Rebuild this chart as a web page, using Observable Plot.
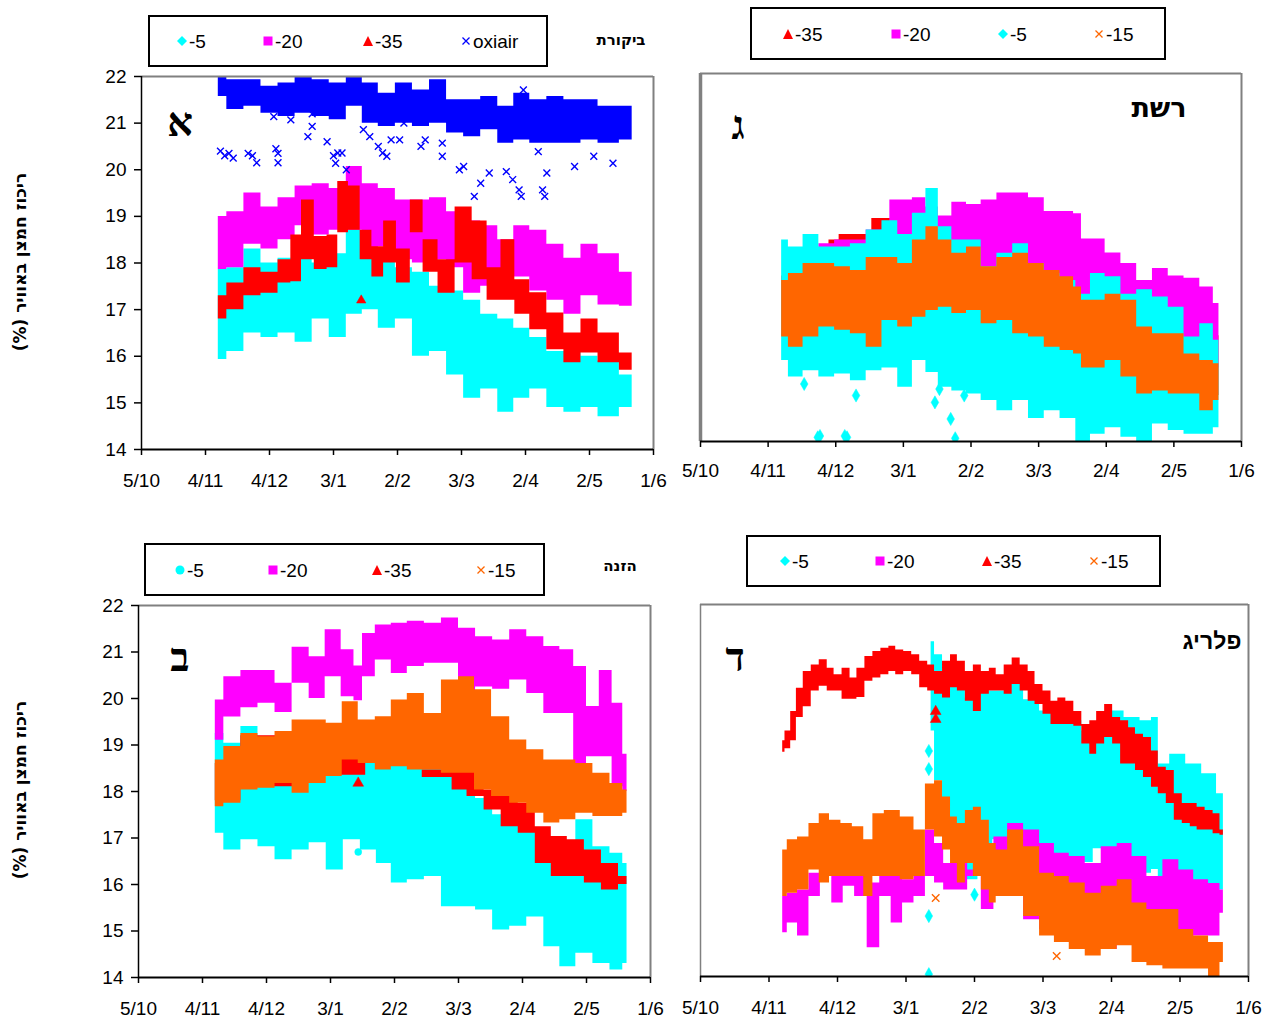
<!DOCTYPE html>
<html>
<head>
<meta charset="utf-8">
<script src="https://cdn.jsdelivr.net/npm/d3@7"></script>
<script src="https://cdn.jsdelivr.net/npm/@observablehq/plot@0.6"></script>
<style>
  body { margin: 0; background: #fff; }
  #page { position: relative; width: 1267px; height: 1023px; overflow: hidden; font-family: "Liberation Sans", Arial, sans-serif; }
  .plot { position: absolute; }
  .legend { position: absolute; border: 2px solid #000; box-sizing: border-box; background: #fff; }
  .ltext { position: absolute; font-size: 19px; line-height: 1; transform: translateY(-50%); white-space: nowrap; }
  .lsym { position: absolute; }
  .heb { position: absolute; direction: rtl; white-space: nowrap; transform: translate(-50%, -50%); }
  .letter { font-family: "Liberation Serif", "DejaVu Serif", serif; font-weight: bold; font-size: 40px; }
  .ytitle { position: absolute; direction: rtl; white-space: nowrap; font-weight: bold; font-size: 17px;
            font-family: "DejaVu Sans", "Liberation Sans", sans-serif; transform: translate(-50%, -50%) rotate(-90deg); }
</style>
</head>
<body>
<div id="page"></div>
<script>
// Oxygen concentration in soil air, 2003/2004 season, four treatments.
// Each series row: [day/month, lower edge, upper edge] of the logged band.

const tickLabels = ["5/10", "4/11", "4/12", "3/1", "2/2", "3/3", "2/4", "2/5", "1/6"];
const yTicks = [14, 15, 16, 17, 18, 19, 20, 21, 22];
const yTitle = "ריכוז חמצן באוויר (%)";

// ---- Panel א : ביקורת (control)
const A_m5 = [["10/11",15.93,17.86],["18/11",16.1,17.9],["26/11",16.5,18.3],["4/12",16.4,18.0],["12/12",16.5,18.1],
  ["20/12",16.3,18.35],["28/12",16.8,18.0],["5/1",16.4,18.2],["13/1",16.9,18.7],["20/1",17.0,18.5],["28/1",16.6,18.1],
  ["5/2",16.8,17.9],["13/2",16.0,17.8],["21/2",16.1,17.5],["29/2",15.6,17.4],["8/3",15.1,17.2],["16/3",15.3,16.9],
  ["24/3",14.8,16.8],["31/3",15.1,16.6],["8/4",15.3,16.4],["16/4",14.9,16.1],["24/4",14.8,16.1],["2/5",14.9,16.0],
  ["10/5",14.7,15.9],["22/5",14.9,15.6]];
const A_m20 = [["10/11",17.86,19.0],["18/11",17.9,19.1],["26/11",18.4,19.5],["4/12",18.3,19.2],["12/12",18.5,19.4],
  ["20/12",18.8,19.65],["28/12",18.6,19.7],["5/1",18.7,19.6],["13/1",18.7,20.07],["20/1",18.1,19.7],["28/1",18.35,19.6],
  ["5/2",18.07,19.35],["13/2",18.0,19.35],["21/2",18.07,19.4],["29/2",17.9,19.1],["8/3",17.35,18.9],["16/3",17.5,18.8],
  ["24/3",17.35,18.5],["31/3",17.7,18.8],["8/4",17.4,18.7],["16/4",17.2,18.4],["24/4",16.9,18.1],["2/5",17.3,18.4],
  ["10/5",17.1,18.2],["22/5",17.07,17.8]];
const A_m35 = [["10/11",16.8,17.3],["18/11",17.0,17.57],["26/11",17.3,17.9],["4/12",17.35,17.8],["12/12",17.57,18.07],
  ["16/12",17.6,18.6],["22/12",18.07,19.35],["28/12",17.86,18.57],["3/1",17.9,18.6],["7/1",18.65,19.75],["13/1",18.7,19.65],
  ["18/1",18.07,18.7],["24/1",17.7,18.35],["29/1",18.0,18.9],["5/2",17.57,18.3],["11/2",18.65,19.35],["17/2",17.8,18.5],
  ["25/2",17.35,18.07],["4/3",18.0,19.2],["12/3",17.64,18.9],["18/3",17.2,17.9],["25/3",17.2,18.5],["31/3",16.9,17.64],
  ["8/4",16.57,17.36],["16/4",16.14,16.93],["24/4",15.86,16.5],["2/5",16.07,16.8],["10/5",15.86,16.5],["22/5",15.7,16.07]];
const A_ox = [["10/11",21.57,22.0],["18/11",21.29,21.93],["26/11",21.36,21.93],["4/12",21.21,21.79],["12/12",21.14,21.86],
  ["20/12",21.21,22.0],["28/12",21.14,21.93],["5/1",21.07,21.86],["13/1",21.36,22.0],["20/1",21.0,21.86],["28/1",20.93,21.64],
  ["5/2",21.0,21.86],["13/2",20.93,21.71],["21/2",21.0,21.93],["29/2",20.79,21.5],["8/3",20.71,21.5],["16/3",20.86,21.57],
  ["24/3",20.57,21.36],["31/3",20.64,21.64],["8/4",20.57,21.5],["16/4",20.57,21.57],["24/4",20.57,21.5],["2/5",20.64,21.5],
  ["10/5",20.57,21.36],["22/5",20.64,21.36]];
const A_oxPts = [["11/11",20.4],["13/11",20.3],["15/11",20.35],["17/11",20.25],["24/11",20.35],["26/11",20.3],["28/11",20.15],
  ["7/12",20.45],["8/12",20.35],["8/12",20.15],["6/12",21.14],["14/12",21.07],["24/12",21.2],["24/12",20.93],["22/12",20.71],
  ["31/12",20.6],["3/1",20.3],["5/1",20.36],["7/1",20.36],["4/1",20.14],["9/1",20.0],["17/1",20.86],["20/1",20.71],
  ["24/1",20.5],["26/1",20.36],["28/1",20.29],["30/1",20.64],["3/2",20.64],["5/2",21.0],["13/2",20.5],["15/2",20.64],
  ["23/2",20.57],["23/2",20.29],["2/3",20.0],["4/3",20.07],["12/3",19.71],["16/3",19.93],["9/3",19.43],["24/3",19.96],
  ["27/3",19.79],["30/3",19.57],["31/3",19.43],["8/4",20.39],["10/4",19.57],["11/4",19.43],["12/4",19.93],["25/4",20.07],
  ["4/5",20.29],["13/5",20.14],["1/4",21.71]];
const A_m35Pts = [["16/1",17.2]];

// ---- Panel ג : רשת (net)
const G_m35 = [["10/11",16.3,17.6],["20/11",16.5,18.05],["30/11",16.5,18.1],["2/12",16.6,18.38],["9/12",16.7,18.5],
  ["19/12",16.7,18.5],["21/12",16.9,18.85],["28/12",16.9,18.85],["4/1",16.9,18.6],["21/1",17.0,18.7],["17/2",16.8,18.2],
  ["2/3",16.5,18.1],["9/3",16.4,17.75],["21/3",15.9,17.4],["12/4",15.5,17.0],["3/5",15.2,16.5],["22/5",15.0,16.3]];
const G_m20 = [["10/11",16.3,17.4],["16/11",16.4,18.2],["23/11",16.4,18.2],["30/11",16.5,18.3],["7/12",16.6,18.38],
  ["14/12",16.6,18.38],["21/12",16.7,18.6],["4/1",16.9,19.25],["10/1",16.9,19.3],["16/1",16.9,19.1],["21/1",16.9,18.9],
  ["28/1",17.0,19.2],["3/2",17.0,19.15],["10/2",17.0,19.25],["17/2",17.0,19.4],["24/2",17.0,19.4],["2/3",16.8,19.3],
  ["9/3",16.6,19.0],["16/3",16.5,19.0],["21/3",16.4,18.95],["23/3",16.2,18.4],["29/3",16.2,18.4],["5/4",16.0,18.1],
  ["12/4",16.0,17.87],["19/4",15.9,17.5],["26/4",15.9,17.76],["3/5",15.8,17.6],["10/5",15.7,17.55],["17/5",15.6,17.36],
  ["22/5",15.6,17.0]];
const G_m5 = [["10/11",15.76,18.38],["16/11",15.4,18.23],["23/11",15.54,18.5],["30/11",15.4,18.23],["7/12",15.47,18.23],
  ["14/12",15.32,18.3],["21/12",15.54,18.6],["28/12",15.6,18.8],["4/1",15.18,18.5],["10/1",15.76,18.96],["16/1",15.5,19.5],
  ["21/1",15.18,18.67],["28/1",15.1,18.38],["3/2",15.03,18.38],["10/2",14.89,17.8],["17/2",14.67,18.09],["24/2",14.89,18.3],
  ["2/3",14.5,17.87],["9/3",14.67,17.65],["16/3",14.5,17.5],["23/3",14.0,17.2],["29/3",14.16,17.65],["5/4",14.3,17.58],
  ["12/4",14.09,17.2],["19/4",14.0,17.3],["26/4",14.38,17.14],["3/5",14.24,16.92],["10/5",14.16,16.27],["17/5",14.16,16.56],
  ["22/5",14.3,16.2]];
const G_m15 = [["10/11",16.27,17.5],["16/11",16.05,17.65],["23/11",16.27,17.87],["30/11",16.49,17.87],["7/12",16.42,17.8],
  ["14/12",16.34,17.72],["21/12",16.05,18.0],["28/12",16.63,18.0],["4/1",16.49,17.87],["10/1",16.7,18.38],["16/1",16.85,18.67],
  ["21/1",16.92,18.38],["28/1",16.78,18.09],["3/2",16.85,18.23],["10/2",16.56,17.8],["17/2",16.63,18.0],["24/2",16.34,18.09],
  ["2/3",16.27,17.87],["9/3",16.05,17.72],["16/3",15.98,17.58],["21/3",15.9,17.36],["23/3",15.6,17.07],["29/3",15.6,17.07],
  ["5/4",15.76,17.2],["12/4",15.4,17.07],["19/4",15.03,16.49],["26/4",15.1,16.34],["3/5",15.03,16.34],["10/5",15.03,15.9],
  ["17/5",14.67,15.76],["22/5",14.89,15.69]];
const G_m5Pts = [["20/11",15.25],["26/11",14.09],["27/11",14.12],["8/12",14.12],["9/12",14.09],["13/12",15.0],
  ["17/1",14.85],["19/1",15.14],["24/1",14.49],["26/1",14.07],["30/1",15.0]];

// ---- Panel ב : הזנה (feeding)
const B_m5 = [["10/11",17.1,19.25],["18/11",16.74,19.04],["26/11",16.96,19.4],["4/12",16.81,18.4],["12/12",16.53,18.5],
  ["20/12",16.74,18.6],["28/12",16.9,18.7],["5/1",16.31,18.6],["13/1",16.96,18.95],["21/1",16.74,18.8],["28/1",16.45,18.7],
  ["4/2",16.03,18.7],["12/2",16.1,18.7],["20/2",16.17,18.6],["28/2",15.52,18.4],["7/3",15.52,18.2],["15/3",15.45,17.85],
  ["23/3",15.02,17.5],["31/3",15.1,17.3],["8/4",15.3,17.2],["16/4",14.66,16.74],["23/4",14.23,16.53],["1/5",14.52,17.39],
  ["9/5",14.3,16.81],["17/5",14.16,16.67],["21/5",14.3,16.45]];
const B_m20 = [["10/11",19.1,19.97],["18/11",19.6,20.47],["26/11",19.8,20.6],["4/12",19.9,20.6],["12/12",19.7,20.33],
  ["20/12",20.33,21.1],["28/12",20.0,20.9],["4/1",20.47,21.48],["12/1",20.04,21.05],["16/1",19.95,20.7],["20/1",20.47,21.4],
  ["28/1",20.83,21.58],["4/2",20.54,21.62],["12/2",20.69,21.66],["20/2",20.76,21.62],["28/2",20.76,21.73],["7/3",20.11,21.51],
  ["15/3",20.25,21.33],["23/3",20.2,21.26],["31/3",20.4,21.48],["8/4",20.11,21.33],["16/4",19.68,21.12],["23/4",19.68,21.05],
  ["29/4",18.6,20.69],["5/5",18.75,19.83],["11/5",18.75,20.6],["17/5",18.1,19.9],["21/5",18.0,18.8]];
const B_m35 = [["10/11",17.8,18.6],["4/12",18.1,19.2],["4/1",18.35,19.4],["4/2",18.6,19.3],["26/2",18.3,18.46],
  ["3/3",18.03,18.82],["11/3",17.89,18.46],["19/3",17.6,18.03],["27/3",17.24,17.89],["4/4",17.1,17.75],["12/4",16.45,17.24],
  ["19/4",16.17,17.03],["27/4",16.17,16.96],["5/5",16.03,16.74],["13/5",15.88,16.45],["21/5",16.0,16.17]];
const B_m15 = [["10/11",17.67,18.68],["18/11",17.75,18.97],["26/11",18.03,19.25],["4/12",18.07,19.18],["12/12",18.17,19.29],
  ["20/12",17.96,19.54],["28/12",18.17,19.54],["5/1",18.32,19.47],["12/1",18.68,19.93],["20/1",18.6,19.54],["28/1",18.46,19.61],
  ["4/2",18.53,19.97],["12/2",18.46,20.11],["20/2",18.46,19.68],["28/2",18.39,20.4],["7/3",18.39,20.47],["14/3",18.03,20.19],
  ["23/3",17.89,19.61],["31/3",17.75,19.11],["8/4",17.53,18.9],["16/4",17.32,18.68],["23/4",17.39,18.68],["1/5",17.53,18.6],
  ["9/5",17.46,18.39],["17/5",17.46,18.17],["21/5",17.53,18.03]];
const B_m35Pts = [["16/1",18.5],["16/1",18.18]];
const B_m5Pts = [["16/1",16.7]];

// ---- Panel ד : פלריג
const D_m5 = [["14/1",19.28,21.2],["17/1",18.21,20.92],["21/1",17.15,20.28],["24/1",16.58,20.35],["27/1",16.4,20.21],
  ["31/1",16.08,19.99],["7/2",16.4,20.14],["13/2",16.94,20.14],["20/2",16.7,20.3],["27/2",16.4,19.95],["5/3",16.55,19.71],
  ["11/3",16.5,19.57],["18/3",16.4,19.5],["22/3",16.45,19.28],["28/3",16.75,19.14],["4/4",16.75,19.71],["11/4",16.45,19.57],
  ["18/4",16.22,19.5],["21/4",16.3,19.57],["24/4",16.0,18.57],["1/5",16.08,18.78],["8/5",15.93,18.57],["15/5",15.93,18.36],
  ["21/5",15.86,17.93]];
const D_m20 = [["10/11",14.94,15.72],["14/11",15.15,15.79],["19/11",14.87,15.86],["24/11",15.72,16.22],["29/11",16.15,16.43],
  ["4/12",15.58,16.22],["9/12",15.94,16.29],["14/12",15.72,16.15],["20/12",14.62,16.01],["25/12",15.72,16.29],["30/12",15.15,16.15],
  ["4/1",15.58,16.08],["9/1",15.72,16.15],["14/1",16.15,17.15],["17/1",16.01,16.86],["22/1",15.86,16.43],["27/1",15.86,16.43],
  ["2/2",16.15,16.29],["8/2",15.44,16.79],["13/2",15.72,17.0],["20/2",15.72,17.29],["27/2",15.22,17.15],["5/3",15.01,16.86],
  ["11/3",15.01,16.65],["18/3",14.8,16.58],["25/3",14.73,16.43],["1/4",14.58,16.79],["8/4",14.73,16.86],["14/4",15.01,16.58],
  ["21/4",14.73,16.15],["28/4",14.66,16.51],["5/5",14.8,16.29],["11/5",14.87,16.08],["18/5",14.87,16.0],["21/5",15.36,15.86]];
const D_m35 = [["10/11",18.82,19.07],["12/11",18.9,19.28],["15/11",19.07,19.7],["17/11",19.57,20.2],["21/11",19.8,20.56],
  ["24/11",20.14,20.7],["28/11",20.24,20.81],["1/12",20.14,20.63],["4/12",20.14,20.49],["8/12",19.96,20.63],["11/12",19.96,20.42],
  ["14/12",20.0,20.63],["18/12",20.35,20.88],["21/12",20.42,20.99],["25/12",20.49,21.06],["28/12",20.56,21.1],["31/12",20.49,21.02],
  ["4/1",20.56,20.99],["7/1",20.49,20.92],["11/1",20.21,20.78],["14/1",20.14,20.7],["17/1",20.07,20.56],["21/1",19.99,20.78],
  ["24/1",20.21,20.92],["27/1",20.14,20.78],["31/1",19.92,20.56],["3/2",19.7,20.7],["7/2",20.07,20.56],["10/2",20.14,20.63],
  ["13/2",20.14,20.49],["17/2",20.07,20.7],["20/2",20.28,20.85],["24/2",20.14,20.7],["27/2",19.92,20.56],["1/3",19.85,20.28],
  ["5/3",19.64,20.14],["8/3",19.42,19.92],["11/3",19.42,19.99],["15/3",19.42,19.92],["18/3",19.38,19.7],["22/3",19.0,19.42],
  ["25/3",18.78,19.5],["28/3",19.0,19.7],["1/4",19.14,19.85],["4/4",19.0,19.57],["8/4",18.57,19.5],["11/4",18.57,19.35],
  ["14/4",18.43,19.21],["18/4",18.28,19.14],["21/4",18.07,18.85],["24/4",17.93,18.5],["28/4",17.72,18.43],["1/5",17.36,17.93],
  ["5/5",17.29,17.72],["8/5",17.22,17.72],["11/5",17.15,17.64],["15/5",17.15,17.57],["18/5",17.07,17.5],["21/5",17.04,17.15]];
const D_m15 = [["10/11",15.72,16.72],["14/11",15.79,16.94],["19/11",15.86,17.0],["24/11",16.29,17.29],["28/11",16.01,17.5],
  ["3/12",16.15,17.36],["8/12",16.15,17.29],["13/12",16.15,17.22],["18/12",15.72,16.94],["21/12",16.15,17.5],["28/12",16.15,17.57],
  ["4/1",16.08,17.43],["9/1",16.15,17.15],["14/1",17.15,18.14],["17/1",17.0,18.21],["21/1",16.72,17.86],["24/1",16.43,17.43],
  ["27/1",16.01,17.29],["31/1",16.43,17.57],["3/2",16.15,17.64],["7/2",15.86,17.36],["10/2",15.58,16.86],["13/2",15.72,16.72],
  ["20/2",15.72,17.15],["27/2",15.29,16.79],["5/3",14.87,16.22],["11/3",14.73,16.15],["18/3",14.58,16.01],["25/3",14.44,15.79],
  ["1/4",14.58,15.94],["8/4",14.66,16.08],["14/4",14.3,15.58],["21/4",14.23,15.44],["28/4",14.16,15.44],["5/5",14.16,15.01],
  ["11/5",14.16,14.87],["18/5",14.0,14.73],["21/5",14.3,14.73]];
const D_m5Pts = [["13/1",18.85],["13/1",18.46],["13/1",16.5],["13/1",15.3],["13/1",14.05],["2/2",15.76],["10/4",14.83]];
const D_m35Pts = [["16/1",19.53],["16/1",19.7]];
const D_m15Pts = [["16/1",15.69],["9/3",14.44]];

// ---- colours
const C = { m5: "#00ffff", m20: "#ff00ff", m35: "#ff0000", m15: "#ff6600", ox: "#0000ff" };

// "d/m" within the Oct 2003 – Jun 2004 season
function parseDM(s) {
  const [d, m] = s.split("/").map(Number);
  return new Date(Date.UTC(m >= 10 ? 2003 : 2004, m - 1, d));
}
const band = rows => rows.map(([t, lo, hi]) => ({ date: parseDM(t), lo, hi }));
const pts = rows => rows.map(([t, v]) => ({ date: parseDM(t), v }));

const tickDates = tickLabels.map(parseDM);
const labelByTime = new Map(tickDates.map((d, i) => [+d, tickLabels[i]]));
const xDomain = [tickDates[0], tickDates[tickDates.length - 1]];

const page = document.getElementById("page");
const FONT = "'Liberation Sans', Arial, sans-serif";

function area(rows, color) {
  return Plot.areaY(band(rows), { x: "date", y1: "lo", y2: "hi", fill: color, curve: "step", clip: true });
}
function scatter(rows, color, symbol, r = 3.5) {
  const filled = symbol !== "times";
  return Plot.dot(pts(rows), {
    x: "date", y: "v", symbol, r,
    fill: filled ? color : "none", stroke: color, strokeWidth: filled ? 0.5 : 1.4, clip: true
  });
}

// One chart panel, placed so its plotting frame lands on the given box
function panel({ box, marks, yAxis, leftStroke, leftWidth, labelGap }) {
  const [x0, y0, x1, y1] = box;
  const left = x0 - (yAxis ? 141 : 60);
  const top = y0 - 20;
  const width = x1 + 20 - left, height = y1 + 60 - top;
  const frame = [
    Plot.ruleY([22], { stroke: "#808080", strokeWidth: 2 }),
    Plot.ruleX([xDomain[1]], { stroke: "#808080", strokeWidth: 2 }),
    Plot.ruleX([xDomain[0]], { stroke: leftStroke, strokeWidth: leftWidth }),
    Plot.ruleY([14], { stroke: "#000", strokeWidth: 2 }),
    Plot.axisX({
      ticks: tickDates, tickFormat: d => labelByTime.get(+d), tickSize: 6, tickPadding: labelGap,
      label: null, strokeWidth: 1.5, fontSize: 19
    })
  ];
  if (yAxis) frame.push(Plot.axisY({ ticks: yTicks, tickSize: 7, tickPadding: 8, label: null, strokeWidth: 1.5, fontSize: 19 }));
  const svg = Plot.plot({
    width, height,
    marginLeft: x0 - left, marginRight: left + width - x1,
    marginTop: y0 - top, marginBottom: top + height - y1,
    x: { type: "utc", domain: xDomain },
    y: { domain: [14, 22], axis: yAxis ? undefined : null },
    style: { fontFamily: FONT, fontSize: "19px", color: "#000", background: "transparent", overflow: "visible" },
    marks: [...marks, ...frame]
  });
  svg.classList.add("plot");
  svg.style.left = left + "px";
  svg.style.top = top + "px";
  page.appendChild(svg);
}

panel({
  box: [141, 76, 653, 449], yAxis: true, leftStroke: "#000", leftWidth: 1.5, labelGap: 18,
  marks: [area(A_m5, C.m5), area(A_m20, C.m20), area(A_m35, C.m35), scatter(A_m35Pts, C.m35, "triangle"),
          area(A_ox, C.ox), scatter(A_oxPts, C.ox, "times", 3.2)]
});
panel({
  box: [700, 73, 1241, 441], yAxis: false, leftStroke: "#808080", leftWidth: 3.5, labelGap: 16,
  marks: [area(G_m35, C.m35), area(G_m20, C.m20), area(G_m5, C.m5), scatter(G_m5Pts, C.m5, "diamond", 4),
          area(G_m15, C.m15)]
});
panel({
  box: [138, 605, 650, 977], yAxis: true, leftStroke: "#000", leftWidth: 1.5, labelGap: 18,
  marks: [area(B_m5, C.m5), scatter(B_m5Pts, C.m5, "circle", 3.5), area(B_m20, C.m20), area(B_m35, C.m35),
          scatter(B_m35Pts, C.m35, "triangle", 4), area(B_m15, C.m15)]
});
panel({
  box: [700, 604, 1248, 976], yAxis: false, leftStroke: "#808080", leftWidth: 1.5, labelGap: 18,
  marks: [area(D_m5, C.m5), scatter(D_m5Pts, C.m5, "diamond", 4), area(D_m20, C.m20), area(D_m35, C.m35),
          scatter(D_m35Pts, C.m35, "triangle", 4), area(D_m15, C.m15), scatter(D_m15Pts, C.m15, "times", 3.5)]
});

// ---- legends
const symbolSvg = {
  diamond: c => `<polygon points="6,1 11,6 6,11 1,6" fill="${c}"/>`,
  circle: c => `<circle cx="6" cy="6" r="4.5" fill="${c}"/>`,
  square: c => `<rect x="1.5" y="1.5" width="9" height="9" fill="${c}"/>`,
  triangle: c => `<polygon points="6,1 11,11 1,11" fill="${c}"/>`,
  times: c => `<path d="M2.5,2.5L9.5,9.5M9.5,2.5L2.5,9.5" stroke="${c}" stroke-width="1.3"/>`
};
function legend(box, items) {
  const [x, y, w, h] = box;
  const div = document.createElement("div");
  div.className = "legend";
  Object.assign(div.style, { left: x + "px", top: y + "px", width: w + "px", height: h + "px" });
  page.appendChild(div);
  const cy = y + h / 2;
  for (const [mx, label, color, sym] of items) {
    const s = document.createElementNS("http://www.w3.org/2000/svg", "svg");
    s.setAttribute("width", 12); s.setAttribute("height", 12);
    s.innerHTML = symbolSvg[sym](color);
    s.classList.add("lsym");
    s.style.left = (mx - 6) + "px"; s.style.top = (cy - 6) + "px";
    page.appendChild(s);
    const t = document.createElement("div");
    t.className = "ltext"; t.textContent = label;
    t.style.left = (mx + 7) + "px"; t.style.top = cy + "px";
    page.appendChild(t);
  }
}
legend([148, 15, 400, 52], [[182, "-5", C.m5, "diamond"], [268, "-20", C.m20, "square"], [368, "-35", C.m35, "triangle"], [466, "oxiair", C.ox, "times"]]);
legend([750, 7, 416, 53], [[788, "-35", C.m35, "triangle"], [896, "-20", C.m20, "square"], [1003, "-5", C.m5, "diamond"], [1099, "-15", C.m15, "times"]]);
legend([144, 543, 401, 53], [[180, "-5", C.m5, "circle"], [273, "-20", C.m20, "square"], [377, "-35", C.m35, "triangle"], [481, "-15", C.m15, "times"]]);
legend([746, 535, 415, 52], [[785, "-5", C.m5, "diamond"], [880, "-20", C.m20, "square"], [987, "-35", C.m35, "triangle"], [1094, "-15", C.m15, "times"]]);

// ---- Hebrew labels
function label(text, x, y, cls, style) {
  const d = document.createElement("div");
  d.className = cls; d.textContent = text;
  d.style.left = x + "px"; d.style.top = y + "px";
  Object.assign(d.style, style || {});
  page.appendChild(d);
}
const HEB = "'DejaVu Sans', 'Liberation Sans', sans-serif";
label("ביקורת", 621, 40, "heb", { fontFamily: HEB, fontWeight: "bold", fontSize: "15px" });
label("הזנה", 620, 566, "heb", { fontFamily: HEB, fontWeight: "bold", fontSize: "15px" });
label("רשת", 1159, 107, "heb", { fontFamily: HEB, fontWeight: "bold", fontSize: "27px" });
label("פלריג", 1212, 641, "heb", { fontFamily: "'Liberation Sans', Arial, sans-serif", fontWeight: "bold", fontSize: "23px" });
label("א", 180, 122, "heb letter");
label("ג", 738, 125, "heb letter");
label("ב", 180, 657, "heb letter");
label("ד", 735, 657, "heb letter");
label(yTitle, 20, 262, "ytitle");
label(yTitle, 20, 790, "ytitle");
</script>
</body>
</html>
